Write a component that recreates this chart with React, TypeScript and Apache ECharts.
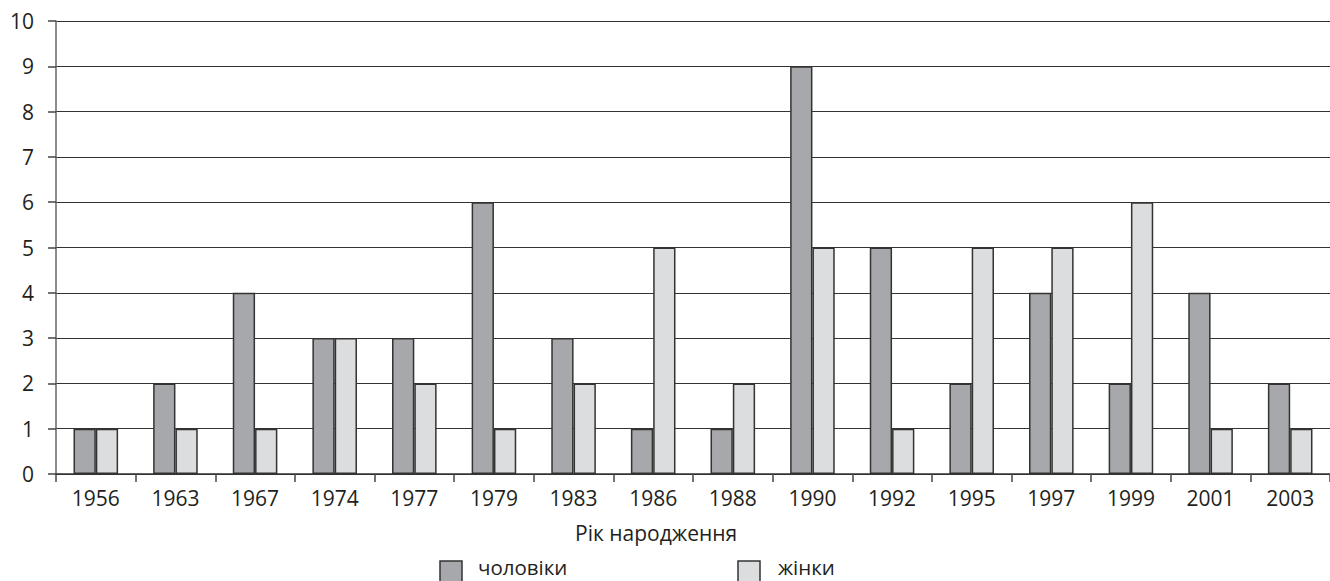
import React, { useEffect, useRef } from "react";
import * as echarts from "echarts";

const categories = ["1956", "1963", "1967", "1974", "1977", "1979", "1983", "1986", "1988", "1990", "1992", "1995", "1997", "1999", "2001", "2003"];
const men = [1, 2, 4, 3, 3, 6, 3, 1, 1, 9, 5, 2, 4, 2, 4, 2];
const women = [1, 1, 1, 3, 2, 1, 2, 5, 2, 5, 1, 5, 5, 6, 1, 1];
const seriesNames = ["чоловіки", "жінки"];
const axisTitle = "Рік народження";

const FONT = "'Open Sans', 'Noto Sans', sans-serif";
const TEXT = "#231f20";
const COLORS = ["#a7a8ab", "#dcdddf"];

export default function App() {
  const ref = useRef<HTMLDivElement>(null);
  useEffect(() => {
    if (!ref.current) return;
    const chart = echarts.init(ref.current, null, { renderer: "svg" });
    const legendX = [440, 738];
    const legendGraphics: any[] = [];
    seriesNames.forEach((name, i) => {
      legendGraphics.push({
        type: "rect",
        shape: { x: legendX[i], y: 561, width: 22, height: 22 },
        style: { fill: COLORS[i], stroke: "#333", lineWidth: 1.5 },
      });
      legendGraphics.push({
        type: "text",
        x: legendX[i] + 38 + (i === 1 ? 2 : 0),
        y: 567,
        style: {
          text: name,
          fontSize: 20.5,
          lineHeight: 18,
          fill: TEXT,
          fontFamily: FONT,
          verticalAlign: "middle",
          align: "left",
        },
      });
    });
    chart.setOption({
      animation: false,
      backgroundColor: "#ffffff",
      textStyle: { fontFamily: FONT },
      grid: { left: 56, top: 21, width: 1282, height: 453, containLabel: false },
      legend: { show: false },
      xAxis: {
        type: "category",
        data: categories,
        axisLine: { show: true, lineStyle: { color: "#333", width: 1.5 } },
        axisTick: { show: true, length: 8, lineStyle: { color: "#444", width: 1.5 } },
        axisLabel: { fontSize: 21, color: TEXT, margin: 13, fontFamily: FONT },
        splitLine: { show: false },
      },
      yAxis: {
        type: "value",
        min: 0,
        max: 10,
        interval: 1,
        axisLine: { show: true, lineStyle: { color: "#666", width: 1.5 } },
        axisTick: { show: true, length: 8, lineStyle: { color: "#444", width: 1.5 } },
        axisLabel: { fontSize: 21, color: TEXT, margin: 22, fontFamily: FONT },
        splitLine: { show: true, lineStyle: { color: "#333", width: 1.2 } },
      },
      series: [
        {
          name: seriesNames[0],
          type: "bar",
          data: men,
          barGap: "0%",
          barCategoryGap: "44%",
          itemStyle: { color: COLORS[0], borderColor: "#333", borderWidth: 1.5 },
        },
        {
          name: seriesNames[1],
          type: "bar",
          data: women,
          barGap: "0%",
          barCategoryGap: "44%",
          itemStyle: { color: COLORS[1], borderColor: "#333", borderWidth: 1.5 },
        },
      ],
      graphic: [
        {
          type: "text",
          left: 657 - 82,
          top: 522,
          style: {
            text: axisTitle,
            fontSize: 21,
            fill: TEXT,
            fontFamily: FONT,
          },
        },
        ...legendGraphics,
      ],
    });
    return () => chart.dispose();
  }, []);
  return (
    <div
      ref={ref}
      style={{ position: "absolute", left: 0, top: 0, width: 1330, height: 581 }}
    />
  );
}
